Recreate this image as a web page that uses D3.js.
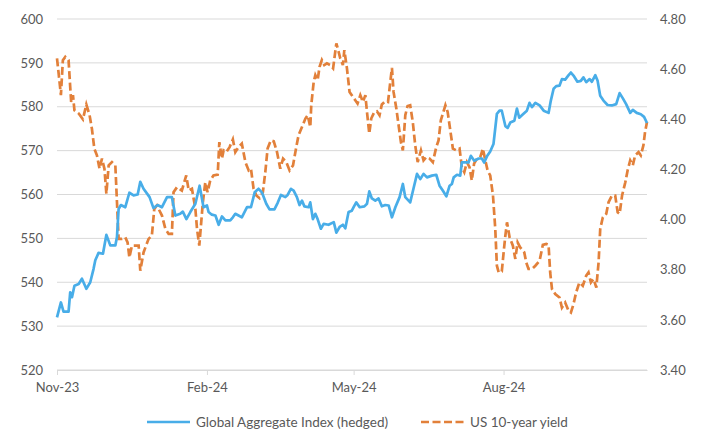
<!DOCTYPE html>
<html>
<head>
<meta charset="utf-8">
<script src="https://cdn.jsdelivr.net/npm/d3@7"></script>
<style>
  body { margin: 0; background: #fff; }
  svg text { font-family: Lato, "Liberation Sans", sans-serif; fill: #595959; }
</style>
</head>
<body>
<svg id="chart" width="710" height="435"></svg>
<script>
// series start date, offsets below are in days from it
const startDate = new Date(2023, 10, 1);

// Global Aggregate Index (hedged), left axis
const indexDays = [0, 2.4, 4, 7.1, 8.1, 9.2, 10.7, 13.3, 15.3, 18, 20.4, 22.4, 23.5, 25.5, 28.2, 30.3, 32.7, 35.8, 36.8, 37.8,
  39.2, 41.9, 44.4, 47, 49.5, 51.1, 53.1, 56.8, 59.2, 61.7, 64.4, 67.5, 70.5, 72.6, 75.6, 77.2, 79.4, 81.8, 84.9, 87.5,
  89.9, 92, 93, 95, 97.2, 99.2, 101.2, 103.3, 106.3, 107.9, 109.4, 111.4, 113.4, 116.6, 119, 121.3, 123.7, 125.7, 128.4, 130.4,
  133.4, 135.4, 137.4, 140.1, 141.5, 143.5, 145.2, 147.2, 148.8, 150.3, 151.8, 154.4, 155.4, 157, 158.5, 159.9, 161.9, 163.6, 166.6, 169.8,
  171.4, 173.4, 175.4, 176.9, 178.9, 180.9, 182, 183.6, 185.7, 188.6, 190.2, 191.6, 193.2, 195.3, 197.3, 199.3, 201.4, 203.5, 205.5, 207.6,
  210.2, 212.2, 213.7, 216.7, 218.7, 220.9, 222.9, 224.9, 227, 230, 232.7, 234.7, 236.7, 238.9, 240.9, 242.3, 243.4, 245.4, 247.4, 248.4,
  250.5, 252.5, 253.9, 256, 258.7, 260.7, 262.1, 263.8, 265.8, 267.8, 269.9, 271.5, 272.9, 275.1, 276.5, 278.1, 280.6, 282.2, 283.6, 285.9,
  288.3, 289.9, 291.4, 293.5, 296.1, 298.6, 301.6, 303, 304.7, 306.3, 308.3, 309.8, 311.8, 313.9, 315.3, 316.9, 319.3, 321.4, 323, 324.7,
  326.8, 328.2, 330.3, 331.7, 333.3, 335.3, 337.8, 340.4, 343.1, 345.2, 347.2, 349.2, 351.7, 353.3, 355.7, 358.2, 360.2, 362];
const indexValues = [532.0, 535.4, 533.3, 533.3, 537.7, 536.6, 539.2, 539.6, 540.8, 538.5, 540.0, 543.0, 545.0, 546.7, 546.5, 550.8, 548.4, 548.4, 550.3, 556.7,
  557.6, 557.1, 560.4, 559.8, 560.0, 562.9, 561.3, 559.4, 556.9, 557.6, 557.1, 559.4, 559.4, 555.2, 555.6, 556.1, 554.4, 556.0, 557.9, 562.0,
  557.1, 557.5, 556.0, 555.4, 555.2, 553.1, 555.0, 554.1, 554.1, 554.8, 555.6, 555.2, 554.8, 557.1, 557.1, 560.5, 561.3, 560.5, 557.9, 556.6,
  556.6, 558.1, 559.9, 559.4, 559.9, 561.3, 560.9, 559.4, 557.6, 558.6, 557.3, 557.1, 558.2, 554.4, 555.6, 554.4, 552.2, 553.3, 553.1, 553.7,
  551.3, 552.6, 553.1, 552.3, 556.0, 556.3, 557.1, 558.2, 557.1, 557.3, 557.9, 560.7, 559.1, 558.6, 559.1, 557.3, 557.6, 557.5, 554.8, 557.1,
  559.4, 562.4, 559.4, 558.2, 561.3, 564.7, 563.5, 564.7, 563.9, 564.3, 564.5, 562.0, 560.9, 559.6, 562.0, 562.4, 563.9, 564.5, 564.3, 567.3,
  567.3, 567.3, 568.8, 567.7, 568.2, 568.2, 567.3, 568.7, 569.8, 571.5, 578.4, 579.1, 579.1, 575.6, 575.2, 576.4, 576.8, 579.6, 577.5, 578.3,
  579.1, 580.9, 579.9, 580.9, 580.3, 579.1, 578.6, 581.4, 584.1, 584.7, 584.8, 586.3, 586.2, 587.2, 587.8, 587.1, 585.7, 585.9, 586.7, 585.6,
  586.3, 585.7, 587.2, 585.9, 582.5, 581.4, 580.4, 580.3, 580.6, 583.1, 581.9, 580.6, 578.6, 579.3, 578.6, 578.3, 577.7, 576.3];

// US 10-year yield, right axis
const yieldDays = [0, 1, 2.4, 3.6, 5.1, 7.1, 8.1, 8.7, 9.8, 10.7, 13.3, 15.9, 18, 20, 21.4, 22.9, 24.5, 26.1, 27.6, 29.1,
  30.3, 31.7, 33.7, 35.8, 36.8, 37.8, 39.8, 41.9, 43.3, 44.4, 46, 48.1, 50.1, 51.1, 53.1, 56.2, 58.2, 59.7, 61.3, 64.4,
  66.5, 68.5, 70.5, 71.5, 73.6, 76.6, 79.3, 80.8, 82.8, 84.9, 85.9, 87.3, 89.5, 91, 92.4, 94, 96, 98.6, 99.6, 101.2,
  102.2, 103.9, 105.9, 107.9, 109.4, 111.4, 113.4, 115.6, 117.6, 119, 120.6, 122.3, 124.3, 126.3, 127.8, 129.2, 131.2, 133, 135, 137,
  138.7, 140.7, 142.7, 144.8, 146.8, 148.2, 150.3, 152.4, 153.8, 155.4, 156, 157.5, 158.5, 159.9, 161.1, 162.5, 164, 165.6, 167.7, 169.4,
  171.4, 172.8, 173.8, 175.4, 176.3, 177.9, 179.5, 181.6, 183, 184.4, 186.1, 187.7, 189.2, 190.2, 191.6, 192.8, 194.7, 196.3, 197.9, 199.3,
  201.4, 203.1, 204.5, 205.5, 206.5, 208.2, 209.6, 211, 212.2, 213.7, 215.1, 216.7, 218.3, 219.8, 221.3, 223.3, 224.9, 226.6, 228.6, 230.6,
  232.7, 234.1, 235.5, 238.3, 239.7, 241.3, 242.9, 245, 247, 248.4, 249.9, 251.5, 253.1, 254.5, 255.9, 257.7, 259.7, 261.3, 262.8, 264.2,
  265.8, 267.5, 268.9, 269.9, 271, 272.9, 274.2, 275.1, 276.1, 277.7, 279.7, 281.2, 282.6, 284.2, 286.7, 287.9, 289.3, 291.4, 293.5, 296.1,
  298.1, 300.2, 301.6, 302.6, 303.7, 305.7, 308.3, 309.8, 311.8, 313.9, 315.3, 316.9, 318.5, 320.5, 322.6, 324.7, 326.1, 327.6, 329.2, 330.9,
  332.3, 333.3, 334.9, 337, 338.4, 340.5, 342.5, 344, 345.2, 346.7, 348.7, 350.1, 351.7, 353.3, 354.7, 356.8, 358.2, 359.8, 360.8, 362];
const yieldValues = [4.643, 4.583, 4.496, 4.636, 4.649, 4.636, 4.529, 4.469, 4.496, 4.436, 4.423, 4.400, 4.459, 4.416, 4.363, 4.283, 4.256, 4.203, 4.243, 4.203,
  4.103, 4.216, 4.229, 4.216, 4.069, 3.923, 3.923, 3.929, 3.909, 3.849, 3.896, 3.896, 3.896, 3.796, 3.869, 3.923, 3.936, 4.043, 4.056, 4.016,
  3.963, 3.943, 3.943, 4.109, 4.129, 4.116, 4.176, 4.116, 4.123, 4.043, 3.963, 3.896, 4.069, 4.149, 4.109, 4.156, 4.176, 4.179, 4.309, 4.243,
  4.276, 4.269, 4.289, 4.320, 4.269, 4.289, 4.303, 4.229, 4.196, 4.203, 4.123, 4.096, 4.085, 4.109, 4.189, 4.283, 4.316, 4.312, 4.269, 4.203,
  4.243, 4.229, 4.196, 4.216, 4.289, 4.336, 4.369, 4.403, 4.416, 4.369, 4.456, 4.549, 4.576, 4.556, 4.609, 4.636, 4.616, 4.623, 4.616, 4.603,
  4.703, 4.669, 4.643, 4.616, 4.676, 4.603, 4.509, 4.489, 4.476, 4.463, 4.496, 4.469, 4.496, 4.429, 4.343, 4.403, 4.429, 4.432, 4.416, 4.459,
  4.472, 4.469, 4.549, 4.605, 4.509, 4.443, 4.376, 4.309, 4.276, 4.416, 4.453, 4.456, 4.389, 4.296, 4.229, 4.276, 4.236, 4.249, 4.243, 4.229,
  4.289, 4.316, 4.396, 4.456, 4.429, 4.356, 4.283, 4.276, 4.283, 4.209, 4.189, 4.229, 4.209, 4.156, 4.223, 4.243, 4.249, 4.283, 4.236, 4.196,
  4.176, 4.096, 3.963, 3.816, 3.789, 3.793, 3.880, 3.936, 3.989, 3.929, 3.896, 3.843, 3.909, 3.889, 3.869, 3.829, 3.803, 3.803, 3.816, 3.836,
  3.899, 3.903, 3.899, 3.789, 3.723, 3.703, 3.689, 3.649, 3.669, 3.636, 3.629, 3.663, 3.709, 3.749, 3.736, 3.776, 3.789, 3.749, 3.763, 3.729,
  3.829, 3.963, 4.009, 4.023, 4.069, 4.096, 4.096, 4.029, 4.023, 4.096, 4.149, 4.196, 4.236, 4.216, 4.256, 4.269, 4.256, 4.296, 4.349, 4.389];

// axis ticks
const leftTicks = [520, 530, 540, 550, 560, 570, 580, 590, 600];
const rightTicks = [3.4, 3.6, 3.8, 4.0, 4.2, 4.4, 4.6, 4.8];
const monthTicks = [new Date(2023, 10, 1), new Date(2024, 1, 1), new Date(2024, 4, 1), new Date(2024, 7, 1)];

const seriesNames = ['Global Aggregate Index (hedged)', 'US 10-year yield'];
const blue = '#48ADE8';
const orange = '#E2803A';

const margin = {top: 19, right: 63, bottom: 65, left: 57};
const width = 710 - margin.left - margin.right;
const height = 435 - margin.top - margin.bottom;

const svg = d3.select('#chart');
const g = svg.append('g').attr('transform', `translate(${margin.left},${margin.top})`);

const dayToDate = d => new Date(startDate.getTime() + d * 864e5);

const x = d3.scaleTime()
  .domain([startDate, dayToDate(d3.max(indexDays))])
  .range([0, width]);
const yLeft = d3.scaleLinear().domain([520, 600]).range([height, 0]);
const yRight = d3.scaleLinear().domain([3.4, 4.8]).range([height, 0]);

// gridlines from left axis
g.append('g')
  .selectAll('line')
  .data(leftTicks)
  .enter().append('line')
  .attr('x1', 0).attr('x2', width)
  .attr('y1', d => yLeft(d)).attr('y2', d => yLeft(d))
  .attr('stroke', '#d9d9d9')
  .attr('stroke-width', 1);

// bottom axis
const xAxis = g.append('g')
  .attr('transform', `translate(0,${height})`)
  .call(d3.axisBottom(x).tickValues(monthTicks).tickFormat(d3.timeFormat('%b-%y')).tickSizeInner(5).tickSizeOuter(0).tickPadding(8));
xAxis.select('.domain').attr('stroke', '#d9d9d9');
xAxis.selectAll('.tick line').attr('stroke', '#d9d9d9');
xAxis.selectAll('text').attr('font-size', 13).attr('fill', '#595959');

// left axis labels
const leftAxis = g.append('g')
  .call(d3.axisLeft(yLeft).tickValues(leftTicks).tickSize(0).tickPadding(14));
leftAxis.select('.domain').remove();
leftAxis.selectAll('text').attr('font-size', 13).attr('fill', '#595959');

// right axis labels
const rightAxis = g.append('g')
  .attr('transform', `translate(${width},0)`)
  .call(d3.axisRight(yRight).tickValues(rightTicks).tickFormat(d3.format('.2f')).tickSize(0).tickPadding(13));
rightAxis.select('.domain').remove();
rightAxis.selectAll('text').attr('font-size', 13).attr('fill', '#595959');

const indexData = indexDays.map((d, i) => ({date: dayToDate(d), value: indexValues[i]}));
const yieldData = yieldDays.map((d, i) => ({date: dayToDate(d), value: yieldValues[i]}));

g.append('path')
  .datum(yieldData)
  .attr('fill', 'none')
  .attr('stroke', orange)
  .attr('stroke-width', 2.7)
  .attr('stroke-dasharray', '8,3.5')
  .attr('d', d3.line().x(d => x(d.date)).y(d => yRight(d.value)));

g.append('path')
  .datum(indexData)
  .attr('fill', 'none')
  .attr('stroke', blue)
  .attr('stroke-width', 2.7)
  .attr('stroke-linejoin', 'round')
  .attr('d', d3.line().x(d => x(d.date)).y(d => yLeft(d.value)));

// legend
const legend = svg.append('g').attr('transform', 'translate(0,422)');
const items = [
  {name: seriesNames[0], color: blue, dash: null, x: 147},
  {name: seriesNames[1], color: orange, dash: '8,3.5', x: 421}
];
items.forEach(it => {
  legend.append('line')
    .attr('x1', it.x).attr('x2', it.x + 43)
    .attr('y1', 0).attr('y2', 0)
    .attr('stroke', it.color)
    .attr('stroke-width', 2.7)
    .attr('stroke-dasharray', it.dash);
  legend.append('text')
    .attr('x', it.x + 49)
    .attr('y', 0)
    .attr('dy', '0.35em')
    .attr('font-size', 13.5)
    .text(it.name);
});
</script>
</body>
</html>
